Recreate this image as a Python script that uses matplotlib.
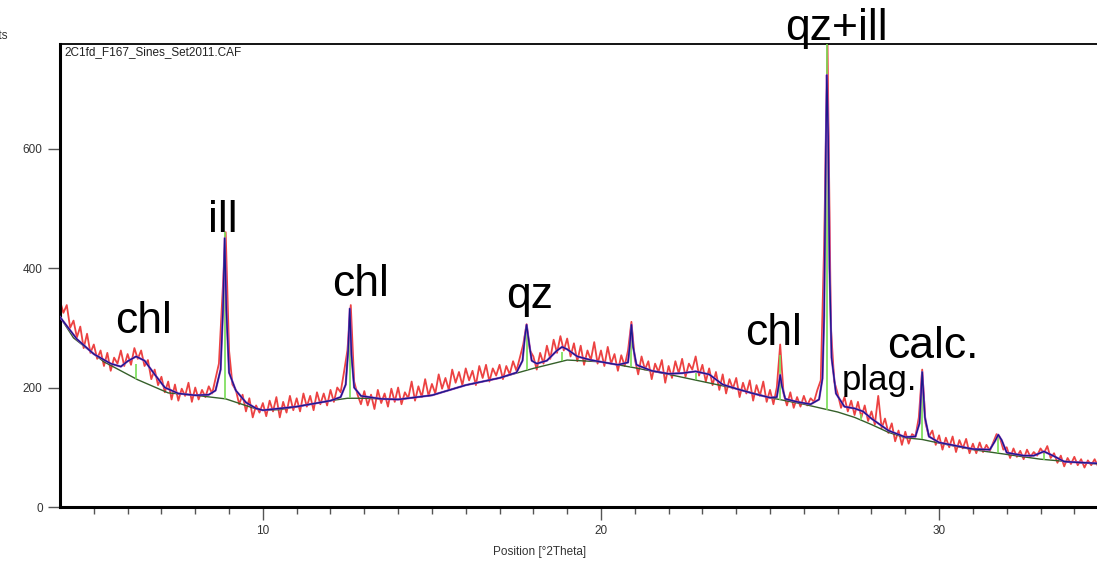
import numpy as np
import matplotlib
matplotlib.use("Agg")
import matplotlib.pyplot as plt

plt.rcParams['font.family'] = ['Liberation Sans', 'DejaVu Sans']

# observed counts, 0.1 deg step starting at 4.0 deg 2theta
obs_start = 4.0
obs_step = 0.1
obs_y = [
    345, 325, 338, 300, 312, 284, 302, 266, 290, 258,
    272, 248, 262, 236, 258, 228, 250, 240, 262, 236,
    256, 238, 266, 248, 262, 236, 246, 214, 230, 204,
    218, 192, 210, 180, 205, 178, 198, 186, 208, 176,
    200, 180, 196, 184, 202, 190, 215, 240, 350, 460,
    262, 205, 196, 172, 188, 160, 182, 150, 170, 158,
    174, 152, 178, 160, 184, 150, 176, 158, 186, 162,
    182, 160, 190, 168, 186, 162, 192, 172, 190, 170,
    196, 176, 200, 192, 226, 262, 338, 210, 188, 172,
    194, 170, 188, 164, 196, 174, 190, 168, 198, 176,
    200, 172, 192, 182, 210, 178, 202, 184, 214, 186,
    206, 190, 222, 198, 216, 196, 230, 208, 226, 204,
    232, 212, 228, 204, 236, 216, 238, 210, 232, 220,
    238, 214, 236, 222, 244, 228, 250, 272, 306, 262,
    252, 230, 258, 240, 270, 248, 280, 258, 286, 262,
    282, 252, 274, 244, 270, 238, 262, 246, 276, 240,
    262, 236, 268, 240, 256, 228, 254, 236, 262, 310,
    248, 222, 252, 230, 244, 214, 240, 226, 246, 208,
    236, 216, 244, 224, 248, 218, 240, 230, 252, 220,
    238, 210, 232, 204, 226, 196, 222, 190, 214, 198,
    216, 184, 208, 190, 212, 178, 204, 186, 210, 176,
    196, 172, 200, 272, 190, 170, 192, 166, 184, 168,
    186, 170, 182, 176, 196, 212, 440, 775, 300, 210,
    190, 166, 184, 160, 178, 154, 176, 150, 170, 144,
    160, 138, 186, 132, 148, 124, 140, 110, 128, 104,
    126, 106, 122, 118, 150, 230, 140, 118, 128, 104,
    120, 96, 116, 100, 118, 92, 112, 98, 114, 90,
    106, 90, 108, 92, 104, 94, 108, 122, 116, 96,
    100, 82, 98, 84, 94, 80, 96, 84, 92, 86,
    98, 90, 102, 82, 90, 74, 86, 68, 82, 72,
    84, 70, 80, 66, 78, 70, 80, 68,
]

# calculated profile
calc_x = [4.0, 4.5, 5.0, 5.5, 5.8, 6.0, 6.25, 6.5, 6.8, 7.1, 7.5, 8.0, 8.4, 8.6,
          8.75, 8.82, 8.87, 8.92, 9.0, 9.2, 9.5, 9.8, 10.0, 11.0, 12.0, 12.3,
          12.45, 12.52, 12.57, 12.62, 12.7, 12.9, 13.5, 14.0, 15.0, 16.0, 17.0,
          17.5, 17.68, 17.75, 17.8, 17.86, 17.95, 18.1, 18.4, 18.7, 18.85, 19.0,
          19.3, 19.7, 20.0, 20.5, 20.8, 20.85, 20.9, 20.95, 21.05, 21.5, 22.0,
          22.4, 22.8, 23.2, 23.6, 24.0, 24.5, 25.0, 25.2, 25.26, 25.3, 25.35,
          25.45, 25.8, 26.2, 26.45, 26.55, 26.6, 26.65, 26.68, 26.72, 26.76,
          26.82, 26.95, 27.2, 27.5, 27.75, 28.0, 28.5, 29.0, 29.3, 29.42, 29.5,
          29.58, 29.7, 30.0, 31.0, 31.5, 31.65, 31.75, 31.85, 32.0, 32.5, 32.8,
          33.1, 33.4, 33.7, 34.0, 34.7]
calc_y = [318, 281, 256, 240, 235, 244, 252, 245, 222, 200, 190, 187, 188, 195,
          230, 330, 450, 330, 225, 195, 175, 165, 162, 168, 178, 184,
          205, 260, 332, 255, 200, 186, 181, 180, 187, 204, 216,
          225, 245, 285, 305, 280, 245, 240, 245, 262, 268, 264,
          252, 246, 243, 238, 242, 270, 305, 268, 238, 228, 223,
          224, 227, 222, 205, 198, 190, 183, 184, 205, 221, 203,
          181, 176, 172, 180, 215, 320, 600, 723, 620, 400,
          250, 190, 168, 165, 160, 148, 128, 117, 118, 140, 226,
          150, 118, 108, 97, 96, 110, 121, 112, 91, 86, 86,
          93, 85, 76, 75, 73]

# background
bg_x = [4.0, 4.4, 5.3, 6.3, 7.2, 8.0, 8.9, 9.7, 10.0, 10.5, 11.0, 12.0, 12.5,
        13.0, 14.0, 15.0, 16.0, 17.0, 18.0, 19.0, 20.0, 21.0, 22.0, 23.0, 24.0,
        25.0, 26.0, 27.0, 27.5, 28.0, 28.5, 29.0, 29.5, 30.0, 31.0, 32.0, 33.0,
        34.0, 34.7]
bg_y = [318, 283, 243, 213, 191, 187, 181, 166, 162, 163, 168, 178, 182,
        182, 180, 187, 204, 216, 232, 246, 243, 233, 222, 210, 198,
        183, 172, 159, 150, 138, 125, 116, 113, 107, 96, 88, 80,
        75, 72]

# peak sticks
peak_pos = [6.25, 8.87, 12.57, 17.8, 18.85, 20.9, 22.8, 25.3, 26.68, 27.7, 29.5, 31.75, 33.1]
peak_top = [240, 460, 320, 300, 260, 300, 225, 254, 775, 155, 228, 118, 90]

labels = ['chl', 'ill', 'chl', 'qz', 'chl', 'qz+ill', 'calc.', 'plag.']
label_x = [6.46, 8.82, 12.88, 17.88, 25.09, 26.96, 29.83, 28.23]
label_y = [291, 460, 353, 333, 271, 782, 249, 196]
label_size = [32, 32, 32, 32, 32, 32, 32, 25]

obs_x = obs_start + obs_step * np.arange(len(obs_y))

fig = plt.figure(figsize=(10.97, 5.63), dpi=100)
ax = fig.add_axes([60/1097, 1 - 507/563, 1 - 60/1097, (507 - 44)/563])

ax.plot(obs_x, obs_y, color='#ec4242', lw=1.3, zorder=2)
ax.plot(bg_x, bg_y, color='#35602a', lw=1.0, zorder=3)
bg_at_peak = np.interp(peak_pos, bg_x, bg_y)
ax.vlines(peak_pos, bg_at_peak, peak_top, color='#77dd55', lw=1.2, zorder=3)
ax.plot(calc_x, calc_y, color='#b050c8', lw=1.6, zorder=4)
ax.plot(calc_x, calc_y, color='#1a1a8a', lw=1.0, zorder=5)

for t, x, y, s in zip(labels, label_x, label_y, label_size):
    ax.text(x, y, t, fontsize=s, ha='center', va='baseline', clip_on=False, zorder=6)

ax.text(0.004, 0.995, '2C1fd_F167_Sines_Set2011.CAF', transform=ax.transAxes,
        fontsize=8.5, va='top', ha='left', color='#222222')

ax.set_xlim(4.0, 34.67)
ax.set_ylim(0, 775)
ax.set_xticks([10, 20, 30])
ax.set_xticks(np.arange(5, 35), minor=True)
ax.set_yticks([0, 200, 400, 600])
ax.tick_params(axis='both', which='major', direction='out', labelsize=8.5,
               labelcolor='#333333', color='#555555', length=9, width=1)
ax.tick_params(axis='x', which='minor', direction='out', length=5, width=1, color='#555555')
ax.tick_params(axis='x', pad=4)

ax.spines['right'].set_visible(False)
ax.spines['left'].set_linewidth(2.2)
ax.spines['bottom'].set_linewidth(2.2)
ax.spines['top'].set_linewidth(1.3)

fig.text(540/1097, 1 - 552/563, 'Position [°2Theta]', ha='center', va='center',
         fontsize=8.5, color='#333333')
# axis title cut by the left edge, as in the source image
fig.text(8/1097, 1 - 36/563, 'Counts', ha='right', va='center', fontsize=8.5,
         color='#333333')

fig.savefig('out.png', dpi=100)
